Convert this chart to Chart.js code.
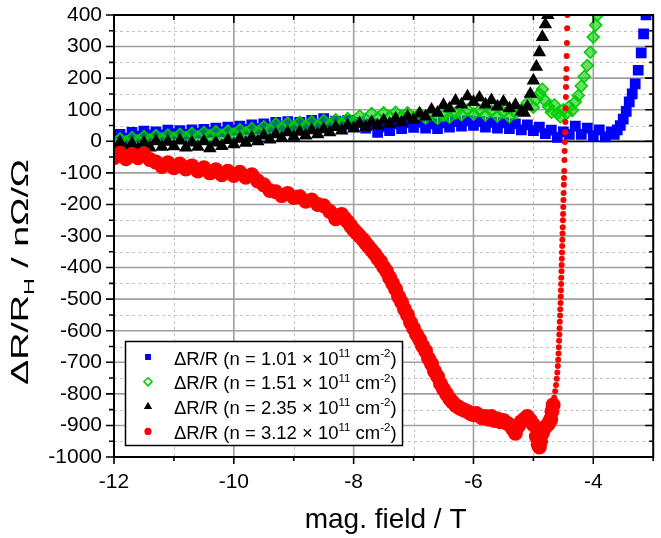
<!DOCTYPE html>
<html><head><meta charset="utf-8">
<script src="https://cdn.jsdelivr.net/npm/chart.js@4.4.1/dist/chart.umd.min.js"></script>
<style>html,body{margin:0;padding:0;background:#fff;} #wrap{width:661px;height:538px;}</style>
</head><body><div id="wrap"><canvas id="c" width="661" height="538"></canvas></div>
<script>
// ---------- data ----------
const xMajorTicks = [-12, -10, -8, -6, -4];
const xMinorTicks = [-11, -9, -7, -5, -3];
const yMajorTicks = [400, 300, 200, 100, 0, -100, -200, -300, -400, -500, -600, -700, -800, -900, -1000];
const yMinorTicks = [350, 250, 150, 50, -50, -150, -250, -350, -450, -550, -650, -750, -850, -950];
const densities = ['1.01', '1.51', '2.35', '3.12'];
const xTitle = 'mag. field / T';

const blueSeries = [[-12.0,15],[-11.9,22],[-11.8,10],[-11.7,28],[-11.6,16],[-11.5,32],[-11.4,20],[-11.3,30],[-11.2,20],[-11.1,35],
[-11.0,24],[-10.9,34],[-10.8,22],[-10.7,36],[-10.6,26],[-10.5,38],[-10.4,28],[-10.3,42],[-10.2,30],[-10.1,45],
[-10.0,35],[-9.9,48],[-9.8,38],[-9.7,52],[-9.6,40],[-9.5,55],[-9.4,45],[-9.3,60],[-9.2,48],[-9.1,62],
[-9.0,50],[-8.9,60],[-8.8,50],[-8.7,66],[-8.6,54],[-8.5,72],[-8.4,56],[-8.3,64],[-8.2,50],[-8.1,66],
[-8.0,48],[-7.9,60],[-7.8,42],[-7.7,55],[-7.6,28],[-7.5,46],[-7.4,34],[-7.3,55],[-7.2,40],[-7.1,58],
[-7.0,44],[-6.9,60],[-6.8,42],[-6.7,55],[-6.6,40],[-6.5,58],[-6.4,45],[-6.3,62],[-6.2,48],[-6.1,65],
[-6.0,50],[-5.9,62],[-5.8,45],[-5.7,60],[-5.6,42],[-5.5,58],[-5.4,40],[-5.3,55],[-5.2,36],[-5.1,52],
[-5.0,34],[-4.9,45],[-4.8,24],[-4.7,35],[-4.6,12],[-4.5,30],[-4.4,22],[-4.3,48],[-4.2,22],[-4.1,42],
[-4.0,18],[-3.9,36],[-3.8,14],[-3.7,30],[-3.65,22],[-3.6,36],[-3.55,50],[-3.5,70],[-3.45,95],[-3.4,125],
[-3.35,150],[-3.3,182],[-3.25,225],[-3.2,280],[-3.16,340],[-3.12,400],[-3.09,440]];

const greenSeries = [[-12.0,-5],[-11.9,8],[-11.8,-2],[-11.7,12],[-11.6,2],[-11.5,15],[-11.4,5],[-11.3,18],[-11.2,8],[-11.1,20],
[-11.0,10],[-10.9,22],[-10.8,12],[-10.7,25],[-10.6,14],[-10.5,28],[-10.4,18],[-10.3,30],[-10.2,20],[-10.1,32],
[-10.0,24],[-9.9,36],[-9.8,28],[-9.7,40],[-9.6,30],[-9.5,46],[-9.4,36],[-9.3,55],[-9.2,42],[-9.1,58],
[-9.0,46],[-8.9,60],[-8.8,48],[-8.7,62],[-8.6,50],[-8.5,66],[-8.4,52],[-8.3,68],[-8.2,56],[-8.1,72],
[-8.0,62],[-7.9,80],[-7.8,70],[-7.7,88],[-7.6,74],[-7.5,90],[-7.4,78],[-7.3,92],[-7.2,80],[-7.1,90],
[-7.0,76],[-6.9,88],[-6.8,74],[-6.7,85],[-6.6,72],[-6.5,82],[-6.4,76],[-6.3,90],[-6.2,84],[-6.1,100],
[-6.0,86],[-5.9,98],[-5.8,84],[-5.7,95],[-5.6,80],[-5.5,92],[-5.4,78],[-5.3,90],[-5.2,100],[-5.1,122],
[-5.0,108],[-4.95,132],[-4.9,150],[-4.85,165],[-4.8,128],[-4.75,110],[-4.7,92],[-4.65,115],[-4.6,88],[-4.55,78],
[-4.5,100],[-4.45,88],[-4.4,110],[-4.35,98],[-4.3,125],[-4.25,145],[-4.2,175],[-4.15,205],[-4.1,240],[-4.05,282],
[-4.0,330],[-3.96,368],[-3.93,400],[-3.9,430]];

const blackSeries = [[-12.0,-22],[-11.9,-4],[-11.8,-26],[-11.7,-8],[-11.6,-24],[-11.5,-5],[-11.4,-20],[-11.3,0],[-11.2,-18],[-11.1,-2],
[-11.0,-16],[-10.9,2],[-10.8,-20],[-10.7,-4],[-10.6,-18],[-10.5,0],[-10.4,-22],[-10.3,-4],[-10.2,-15],[-10.1,4],
[-10.0,-10],[-9.9,8],[-9.8,-5],[-9.7,12],[-9.6,0],[-9.5,18],[-9.4,5],[-9.3,22],[-9.2,10],[-9.1,28],
[-9.0,14],[-8.9,30],[-8.8,18],[-8.7,35],[-8.6,22],[-8.5,38],[-8.4,28],[-8.3,45],[-8.2,34],[-8.1,50],
[-8.0,40],[-7.9,56],[-7.8,45],[-7.7,60],[-7.6,50],[-7.5,66],[-7.4,55],[-7.3,72],[-7.2,60],[-7.1,78],
[-7.0,68],[-6.9,88],[-6.8,78],[-6.7,100],[-6.6,90],[-6.5,115],[-6.4,104],[-6.3,128],[-6.2,116],[-6.1,142],
[-6.0,124],[-5.9,138],[-5.8,116],[-5.7,130],[-5.6,110],[-5.5,125],[-5.4,104],[-5.3,115],[-5.2,94],[-5.15,90],
[-5.1,110],[-5.05,150],[-5.0,192],[-4.95,236],[-4.9,282],[-4.85,330],[-4.8,370],[-4.76,400],[-4.73,430]];

const redSeries = [[-12.0,-52],[-11.9,-38],[-11.8,-55],[-11.7,-42],[-11.6,-52],[-11.5,-40],[-11.4,-58],[-11.3,-66],[-11.2,-80],[-11.1,-68],
[-11.0,-84],[-10.9,-72],[-10.8,-88],[-10.7,-78],[-10.6,-94],[-10.5,-84],[-10.4,-100],[-10.3,-90],[-10.2,-106],[-10.1,-95],
[-10.0,-108],[-9.9,-98],[-9.8,-114],[-9.7,-106],[-9.6,-126],[-9.5,-138],[-9.4,-156],[-9.3,-160],[-9.2,-172],[-9.1,-165],
[-9.0,-178],[-8.9,-176],[-8.8,-190],[-8.7,-186],[-8.6,-200],[-8.5,-204],[-8.4,-222],[-8.3,-245],[-8.25,-235],[-8.2,-232],
[-8.15,-245],[-8.1,-255],[-8.05,-268],[-8.0,-280],[-7.95,-290],[-7.9,-300],[-7.85,-310],[-7.8,-322],[-7.75,-334],[-7.7,-345],
[-7.65,-356],[-7.6,-370],[-7.55,-382],[-7.5,-398],[-7.45,-412],[-7.4,-432],[-7.35,-450],[-7.3,-468],[-7.25,-492],[-7.2,-510],
[-7.15,-532],[-7.1,-550],[-7.05,-574],[-7.0,-592],[-6.95,-612],[-6.9,-628],[-6.85,-648],[-6.8,-664],[-6.75,-688],[-6.7,-705],
[-6.65,-728],[-6.6,-745],[-6.55,-768],[-6.5,-785],[-6.45,-800],[-6.4,-815],[-6.35,-826],[-6.3,-836],[-6.25,-842],[-6.2,-848],
[-6.15,-852],[-6.1,-856],[-6.05,-862],[-6.0,-866],[-5.95,-862],[-5.9,-870],[-5.85,-876],[-5.8,-872],[-5.75,-880],[-5.7,-872],
[-5.65,-884],[-5.6,-880],[-5.55,-888],[-5.5,-884],[-5.45,-892],[-5.4,-898],[-5.35,-910],[-5.3,-925],[-5.25,-902],[-5.2,-888],
[-5.15,-880],[-5.1,-872],[-5.05,-884],[-5.0,-898],[-4.95,-935],[-4.92,-960],[-4.9,-968],[-4.88,-950],[-4.85,-925],[-4.8,-905],
[-4.75,-895],[-4.72,-885],[-4.71,-880],[-4.69,-855],[-4.67,-835],[-4.652,-812],[-4.636,-792],[-4.622,-772],[-4.61,-752],[-4.6,-732],
[-4.592,-712],[-4.586,-692],[-4.58,-672],[-4.575,-652],[-4.571,-632],[-4.567,-612],[-4.563,-592],[-4.559,-572],[-4.555,-552],[-4.551,-532],
[-4.547,-512],[-4.543,-492],[-4.54,-472],[-4.537,-452],[-4.534,-432],[-4.531,-412],[-4.528,-392],[-4.525,-372],[-4.522,-352],[-4.519,-332],
[-4.516,-312],[-4.513,-292],[-4.51,-272],[-4.507,-250],[-4.504,-230],[-4.501,-208],[-4.498,-186],[-4.495,-164],[-4.492,-138],[-4.489,-116],
[-4.486,-94],[-4.482,-59],[-4.478,-31],[-4.474,-2],[-4.47,29],[-4.466,61],[-4.462,105],[-4.458,140],[-4.455,172],[-4.452,200],
[-4.448,229],[-4.444,270],[-4.44,311],[-4.436,358],[-4.432,400]];

// ---------- rendering ----------
const FONT = '"Liberation Sans", Arial, Helvetica, sans-serif';
const toPts = arr => arr.map(p => ({x: p[0], y: p[1]}));

function drawRich(ctx, parts, x, y, size, measureOnly) {
  let cx = x;
  for (const p of parts) {
    const s = (p.sup || p.sub) ? size * 0.62 : size;
    ctx.font = s + 'px ' + FONT;
    const dy = p.sup ? -size * 0.42 : (p.sub ? size * 0.25 : 0);
    if (!measureOnly) ctx.fillText(p.t, cx, y + dy);
    cx += ctx.measureText(p.t).width;
  }
  return cx - x;
}

const legendStyles = [
  {pointStyle: 'rect', radius: 4.2, fill: '#0000ff', stroke: '#0000ff', bw: 0},
  {pointStyle: 'rectRot', radius: 4, fill: '#ffffff', stroke: '#00cc00', bw: 1.6},
  {pointStyle: 'triangle', radius: 4.8, fill: '#000000', stroke: '#000000', bw: 0},
  {pointStyle: 'circle', radius: 3.6, fill: '#ff0000', stroke: '#ff0000', bw: 0}
];

const framePlugin = {
  id: 'framePlugin',
  beforeDatasetsDraw(chart) {
    const {ctx, chartArea: a, scales: {x, y}} = chart;
    ctx.save();
    ctx.beginPath(); ctx.rect(a.left, a.top, a.right - a.left, a.bottom - a.top); ctx.clip();
    ctx.setLineDash([3, 3]); ctx.strokeStyle = '#c4c4c4'; ctx.lineWidth = 1;
    ctx.beginPath();
    xMinorTicks.forEach(v => { const p = Math.round(x.getPixelForValue(v)) + 0.5; ctx.moveTo(p, a.top); ctx.lineTo(p, a.bottom); });
    yMinorTicks.forEach(v => { const p = Math.round(y.getPixelForValue(v)) + 0.5; ctx.moveTo(a.left, p); ctx.lineTo(a.right, p); });
    ctx.stroke();
    ctx.setLineDash([]); ctx.strokeStyle = '#a0a0a0'; ctx.lineWidth = 1.6;
    ctx.beginPath();
    xMajorTicks.forEach(v => { const p = x.getPixelForValue(v); ctx.moveTo(p, a.top); ctx.lineTo(p, a.bottom); });
    yMajorTicks.forEach(v => { if (v === 0) return; const p = y.getPixelForValue(v); ctx.moveTo(a.left, p); ctx.lineTo(a.right, p); });
    ctx.stroke();
    ctx.strokeStyle = '#000'; ctx.lineWidth = 1.8;
    ctx.beginPath(); const z = y.getPixelForValue(0); ctx.moveTo(a.left, z); ctx.lineTo(a.right, z); ctx.stroke();
    ctx.restore();
  },
  afterDatasetsDraw(chart) {
    const {ctx, chartArea: a, scales: {x, y}} = chart;
    ctx.save();
    ctx.strokeStyle = '#000'; ctx.lineWidth = 2;
    ctx.strokeRect(a.left, a.top, a.right - a.left, a.bottom - a.top);
    ctx.lineWidth = 1.6;
    ctx.beginPath();
    yMajorTicks.forEach(v => { const p = y.getPixelForValue(v);
      ctx.moveTo(a.left - 8, p); ctx.lineTo(a.left, p);
      ctx.moveTo(a.right - 8, p); ctx.lineTo(a.right, p); });
    yMinorTicks.forEach(v => { const p = y.getPixelForValue(v);
      ctx.moveTo(a.left - 5, p); ctx.lineTo(a.left, p);
      ctx.moveTo(a.right - 4, p); ctx.lineTo(a.right, p); });
    xMajorTicks.forEach(v => { const p = x.getPixelForValue(v);
      ctx.moveTo(p, a.bottom); ctx.lineTo(p, a.bottom + 7);
      ctx.moveTo(p, a.top); ctx.lineTo(p, a.top + 8); });
    xMinorTicks.forEach(v => { const p = x.getPixelForValue(v);
      ctx.moveTo(p, a.bottom); ctx.lineTo(p, a.bottom + 4);
      ctx.moveTo(p, a.top); ctx.lineTo(p, a.top + 5); });
    ctx.stroke();

    const lx = 125, ly = 341, lw = 277, lh = 104;
    ctx.fillStyle = '#fff'; ctx.fillRect(lx, ly, lw, lh);
    ctx.strokeStyle = '#000'; ctx.lineWidth = 1.5; ctx.strokeRect(lx + 0.5, ly + 0.5, lw, lh);
    ctx.textBaseline = 'alphabetic'; ctx.textAlign = 'left';
    densities.forEach((d, i) => {
      const cy = 357 + i * 24.8;
      const st = legendStyles[i];
      ctx.fillStyle = st.fill; ctx.strokeStyle = st.stroke; ctx.lineWidth = st.bw;
      Chart.helpers.drawPoint(ctx, {pointStyle: st.pointStyle, radius: st.radius, rotation: 0, borderWidth: st.bw}, 148, cy);
      ctx.fillStyle = '#000';
      drawRich(ctx, [{t: '\u0394R/R (n = ' + d + ' \u00d7 10'}, {t: '11', sup: true}, {t: ' cm'}, {t: '-2', sup: true}, {t: ')'}], 174, cy + 7.5, 18.5);
    });

    ctx.fillStyle = '#000';
    ctx.font = '28px ' + FONT; ctx.textAlign = 'center';
    ctx.fillText(xTitle, (a.left + a.right) / 2 + 2, 528);

    ctx.textAlign = 'left';
    const yParts = [{t: '\u0394R/R'}, {t: 'H', sub: true}, {t: ' / n\u03a9/\u03a9'}];
    const size = 24;
    const w = drawRich(ctx, yParts, 0, 0, size, true);
    ctx.translate(28, 272);
    ctx.rotate(-Math.PI / 2);
    ctx.scale(226 / w, 1);
    drawRich(ctx, yParts, -w / 2, 0, size);
    ctx.restore();
  }
};

const tickFont = {family: FONT, size: 21};
new Chart(document.getElementById('c').getContext('2d'), {
  type: 'scatter',
  data: {
    datasets: [
      {label: 'n = ' + densities[0], data: toPts(blueSeries), pointStyle: 'rect', pointRadius: 7.6,
       pointBackgroundColor: '#0000ff', pointBorderColor: '#0000ff', pointBorderWidth: 0, order: 4, clip: 0},
      {label: 'n = ' + densities[1], data: toPts(greenSeries), pointStyle: 'rectRot', pointRadius: 6,
       pointBackgroundColor: 'rgba(0,204,0,0.6)', pointBorderColor: '#00cc00', pointBorderWidth: 1.5, order: 3, clip: 0},
      {label: 'n = ' + densities[2], data: toPts(blackSeries), pointStyle: 'triangle', pointRadius: 7.8,
       pointBackgroundColor: '#000000', pointBorderColor: '#000000', pointBorderWidth: 0, order: 2, clip: 0},
      {label: 'n = ' + densities[3], data: toPts(redSeries), pointStyle: 'circle',
       pointRadius: c => (c.raw && c.raw.x > -4.7 && c.raw.y > -830) ? 3 : 7.5,
       pointBackgroundColor: '#ff0000', pointBorderColor: '#ff0000', pointBorderWidth: 0, order: 1, clip: 0}
    ]
  },
  options: {
    responsive: false, animation: false, devicePixelRatio: 1, events: [],
    layout: {padding: {left: 0, top: 15, right: 1, bottom: 0}},
    plugins: {legend: {display: false}, tooltip: {enabled: false}},
    scales: {
      x: {type: 'linear', min: -12, max: -3,
          grid: {display: false, drawTicks: false}, border: {display: false},
          ticks: {stepSize: 2, includeBounds: false, padding: 13, color: '#000', font: tickFont,
                  maxRotation: 0, autoSkip: false, callback: v => String(v)},
          afterFit(s) { s.height = 81; s.paddingLeft = 0; s.paddingRight = 0; }},
      y: {type: 'linear', min: -1000, max: 400,
          grid: {display: false, drawTicks: false}, border: {display: false},
          ticks: {stepSize: 100, padding: 12, color: '#000', font: tickFont, autoSkip: false, callback: v => String(v)},
          afterFit(s) { s.width = 114; s.paddingTop = 0; s.paddingBottom = 0; }}
    }
  },
  plugins: [framePlugin]
});
</script>
</body></html>
